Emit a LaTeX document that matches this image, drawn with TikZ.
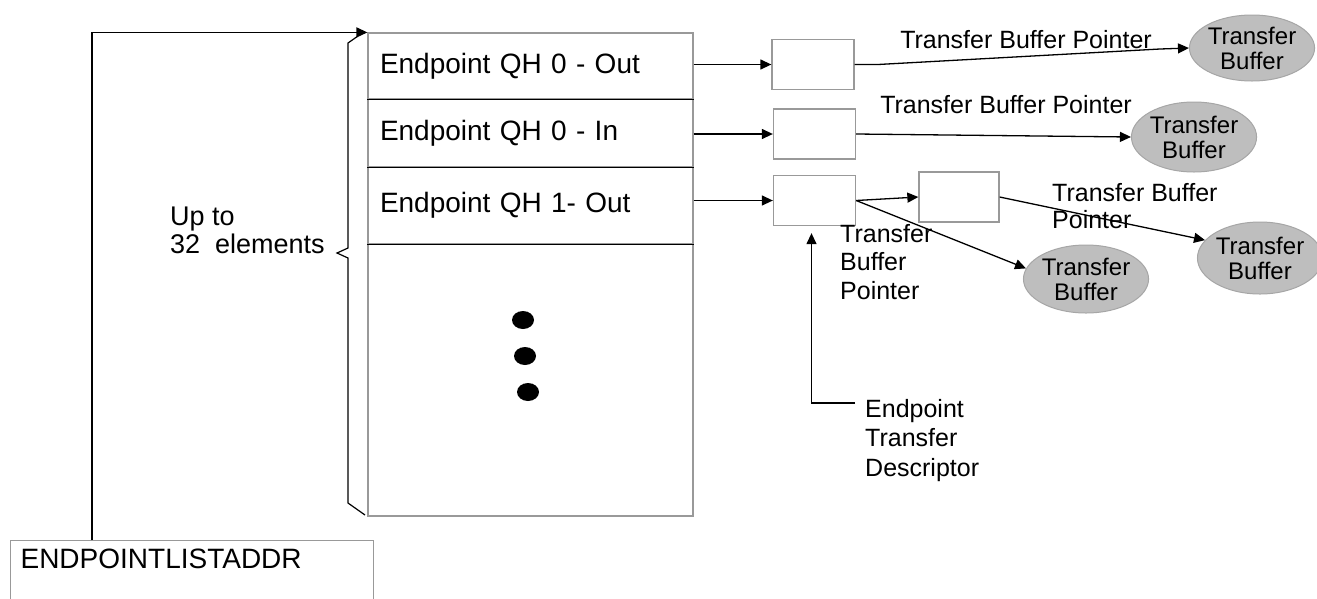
\documentclass[tikz,border=0pt]{standalone}
\usepackage{fontspec}
\setmainfont{Liberation Sans}
\usetikzlibrary{shapes.geometric,arrows.meta}
\begin{document}
\begin{tikzpicture}[x=1pt,y=-1pt,
  arr/.style={line width=1.3pt,-{Triangle[length=11pt,width=10pt]}},
  ln/.style={line width=1.3pt},
  row/.style={draw=gray!80,line width=1.2pt,minimum width=325pt,inner xsep=12pt,text width=301pt,align=left,font=\fontsize{28}{30}\selectfont},
  tdbox/.style={draw=gray!80,line width=1.3pt,minimum width=82pt,minimum height=50pt,inner sep=0pt},
  buf/.style={ellipse,draw=gray!70,line width=1pt,fill={rgb,255:red,190;green,190;blue,190},inner sep=0pt,align=center,font=\fontsize{24}{25}\selectfont},
  lbl/.style={inner sep=0pt,font=\fontsize{25}{27}\selectfont,align=left}
]
\useasboundingbox (0,0) rectangle (1317,598);
\fill[white] (0,0) rectangle (1317,598);

% main list
\node[row,minimum height=66pt] (q0out) at (530.5,66) {Endpoint QH 0 - Out};
\node[row,minimum height=68pt] (q0in) at (530.5,133) {Endpoint QH 0 - In};
\node[row,minimum height=77pt] (q1out) at (530.5,205.5) {Endpoint QH 1- Out};
\node[row,minimum height=272pt] (rest) at (530.5,380) {};
\draw[line width=1.3pt] (q0out.south west) -- (q0out.south east);
\draw[line width=1.3pt] (q0in.south west) -- (q0in.south east);
\draw[line width=1.3pt] (q1out.south west) -- (q1out.south east);

% dots
\fill (523,320) ellipse [x radius=11pt,y radius=9pt];
\fill (525,356) ellipse [x radius=11pt,y radius=9pt];
\fill (528,392) ellipse [x radius=11pt,y radius=9pt];

% address register
\node[draw=gray!80,line width=1.2pt,minimum width=363pt,minimum height=66pt,inner xsep=10pt,text width=343pt,align=left,anchor=north west,font=\fontsize{28}{30}\selectfont,text depth=30pt] (addr) at (10,540) {ENDPOINTLISTADDR};
\draw[arr] ([xshift=82pt]addr.north west) |- (q0out.north west);

% brace
\node[lbl,anchor=north west,font=\fontsize{27}{28}\selectfont] (upto) at (170,207) {Up to\\32\ \ elements};
\draw[line width=1.2pt] (358,36) -- (348,43) -- (348,248) -- (337,253) -- (348,258) -- (348,503) -- (365,515);

% transfer descriptors
\node[tdbox] (td1) at (813,64.5) {};
\node[tdbox] (td2) at (814.5,134) {};
\node[tdbox] (td3) at (814.5,200.5) {};
\node[tdbox,minimum width=80pt] (td4) at (959,197) {};

\draw[arr] (q0out.east |- td1.west) -- (td1.west);
\draw[arr] (q0in.east |- td2.west) -- (td2.west);
\draw[arr] (q1out.east |- td3.west) -- (td3.west);
\draw[arr] (td3.east) -- (td4.west);

% buffers
\node[buf,minimum width=112pt,minimum height=66pt] (e1) at (1252,48) {Transfer\\Buffer};
\node[buf,minimum width=108pt,minimum height=70pt] (e2) at (1194,137) {Transfer\\Buffer};
\node[buf,minimum width=114pt,minimum height=72pt] (e3) at (1260,258) {Transfer\\Buffer};
\node[buf,minimum width=110pt,minimum height=68pt] (e4) at (1086,279) {Transfer\\Buffer};

\coordinate (j1) at (878,64.5);
\coordinate (j2) at (1160,49);
\draw[arr] (td1.east) -- (j1) -- (j2) -- (e1.west);
\draw[arr] (td2.east) -- (e2.west);
\draw[arr] (td3.east) -- (e4.170);
\draw[arr] (td4.east) -- (e3.162);

\node[lbl] (l1) at (1026,40) {Transfer Buffer Pointer};
\node[lbl] (l2) at (1006,105) {Transfer Buffer Pointer};
\node[lbl,anchor=north west] (l3) at (1052,183) {Transfer Buffer\\Pointer};
\node[lbl,anchor=north west,font=\fontsize{25}{28.5}\selectfont] (l4) at (840,224) {Transfer\\Buffer\\Pointer};

% descriptor callout
\node[lbl,anchor=north west,font=\fontsize{25}{29.5}\selectfont] (desc) at (865,399) {Endpoint\\Transfer\\Descriptor};
\coordinate (dstart) at (855,403);
\draw[arr,shorten >=7pt] (dstart) -| ([xshift=-3pt]td3.south);
\end{tikzpicture}
\end{document}
